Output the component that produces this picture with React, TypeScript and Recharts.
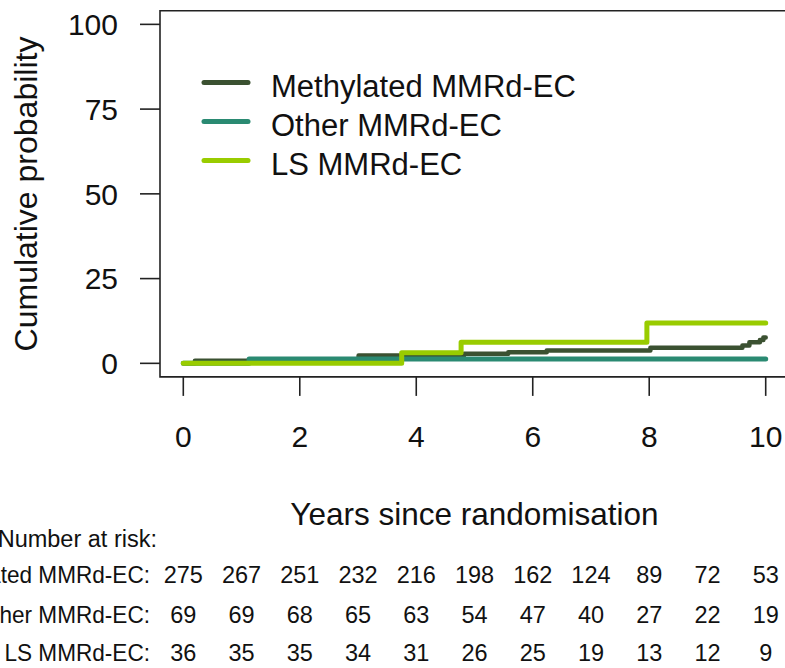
import React from "react";
import { LineChart, Line, XAxis, YAxis, ReferenceArea, Legend } from "recharts";

// groups, in drawing order
const groupNames = ["Methylated MMRd-EC", "Other MMRd-EC", "LS MMRd-EC"];
const groupColors = ["#3b5131", "#2a8a72", "#99cc00"];

// cumulative probability (%) step curves
const methylatedYears = [0, 0.2, 3.01, 4.82, 5.58, 6.24, 8.02, 9.6, 9.72, 9.9, 9.96, 10];
const methylatedCum = [0, 0.8, 2.3, 2.8, 3.3, 3.8, 4.6, 5.3, 6.2, 6.9, 7.6, 7.6];
const otherYears = [0, 1.13, 10];
const otherCum = [0, 1.3, 1.3];
const lsYears = [0, 3.75, 4.77, 7.96, 10];
const lsCum = [0, 3.1, 6.2, 11.9, 11.9];

const xTicks = [0, 2, 4, 6, 8, 10];
const yTicks = [0, 25, 50, 75, 100];

// number at risk table
const riskYears = [0, 1, 2, 3, 4, 5, 6, 7, 8, 9, 10];
const riskMethylated = [275, 267, 251, 232, 216, 198, 162, 124, 89, 72, 53];
const riskOther = [69, 69, 68, 65, 63, 54, 47, 40, 27, 22, 19];
const riskLS = [36, 35, 35, 34, 31, 26, 25, 19, 13, 12, 9];
const riskRows = [riskMethylated, riskOther, riskLS];

const FONT = '"Liberation Sans", Arial, sans-serif';
const INK = "#111";
const AXIS = "#222";
const riskRowY = [575, 615, 653];

const toPoints = (years: number[], cum: number[]) =>
  years.map((t, i) => ({ t, p: cum[i] }));

const series = [
  toPoints(methylatedYears, methylatedCum),
  toPoints(otherYears, otherCum),
  toPoints(lsYears, lsCum),
];

function YTick({ x, y, payload }: any) {
  return (
    <text x={x} y={y} dy="0.36em" textAnchor="end" fontSize={30} fill={INK} fontFamily={FONT}>
      {payload.value}
    </text>
  );
}

// one tick per year: tick mark + label on even years, number at risk on every year
function XTick({ x, y, payload }: any) {
  const v = payload.value;
  const i = riskYears.indexOf(v);
  const labelled = xTicks.includes(v);
  return (
    <g>
      {labelled && (
        <>
          <line x1={x} x2={x} y1={y} y2={y + 19} stroke={AXIS} strokeWidth={1.6} />
          <text x={x} y={y + 59} dy="0.36em" textAnchor="middle" fontSize={30} fill={INK} fontFamily={FONT}>
            {v}
          </text>
        </>
      )}
      {riskRows.map((row, k) => (
        <text
          key={k}
          x={x}
          y={riskRowY[k]}
          dy="0.36em"
          textAnchor="middle"
          fontSize={23.5}
          fill={INK}
          fontFamily={FONT}
        >
          {row[i]}
        </text>
      ))}
    </g>
  );
}

function LegendBox() {
  return (
    <svg width={440} height={130}>
      {groupNames.map((name, i) => {
        const y = 27.5 + i * 39;
        return (
          <g key={name}>
            <line
              x1={14}
              x2={58}
              y1={y}
              y2={y}
              stroke={groupColors[i]}
              strokeWidth={5}
              strokeLinecap="round"
            />
            <text x={81} y={y + 3} dy="0.36em" fontSize={31} fill={INK} fontFamily={FONT}>
              {name}
            </text>
          </g>
        );
      })}
    </svg>
  );
}

export default function App() {
  return (
    <div
      style={{
        position: "absolute",
        left: 0,
        top: 0,
        width: 785,
        height: 668,
        overflow: "hidden",
        background: "#fff",
      }}
    >
      <LineChart
        width={800}
        height={668}
        margin={{ top: 10.8, right: 11, bottom: 0, left: 0 }}
      >
        <XAxis
          type="number"
          dataKey="t"
          domain={[-0.4, 10.4]}
          ticks={riskYears}
          interval={0}
          height={291.1}
          axisLine={false}
          tickLine={false}
          tickSize={0}
          tickMargin={0}
          tick={<XTick />}
        />
        <YAxis
          type="number"
          domain={[-4, 104]}
          ticks={yTicks}
          interval={0}
          width={160}
          axisLine={false}
          tickSize={20}
          tickMargin={22}
          tickLine={{ stroke: AXIS, strokeWidth: 1.6 }}
          tick={<YTick />}
        />
        <ReferenceArea
          x1={-0.4}
          x2={10.4}
          y1={-4}
          y2={104}
          fill="none"
          fillOpacity={0}
          stroke={AXIS}
          strokeWidth={1.6}
        />
        {series.map((pts, i) => (
          <Line
            key={groupNames[i]}
            data={pts}
            dataKey="p"
            name={groupNames[i]}
            type="stepAfter"
            stroke={groupColors[i]}
            strokeWidth={i === 0 ? 4.5 : 5}
            strokeLinecap="round"
            strokeLinejoin="round"
            dot={false}
            activeDot={false}
            isAnimationActive={false}
          />
        ))}
        <Legend
          layout="vertical"
          align="center"
          verticalAlign="middle"
          wrapperStyle={{ left: 190, top: 55, width: 440, height: 130 }}
          content={() => <LegendBox />}
        />
      </LineChart>
      <svg
        width={785}
        height={668}
        style={{ position: "absolute", left: 0, top: 0, pointerEvents: "none" }}
        fontFamily={FONT}
        fill={INK}
      >
        <text x={37} y={194} fontSize={32} textAnchor="middle" transform="rotate(-90 37 194)">
          Cumulative probability
        </text>
        <text x={474.5} y={514} dy="0.36em" fontSize={31.5} textAnchor="middle">
          Years since randomisation
        </text>
        <text x={157} y={539} dy="0.36em" fontSize={23.5} textAnchor="end">
          Number at risk:
        </text>
        {groupNames.map((name, k) => (
          <g key={name} transform="translate(150 0) scale(0.97 1)">
            <text x={0} y={riskRowY[k]} dy="0.36em" fontSize={23.3} textAnchor="end">
              {name}:
            </text>
          </g>
        ))}
      </svg>
    </div>
  );
}
